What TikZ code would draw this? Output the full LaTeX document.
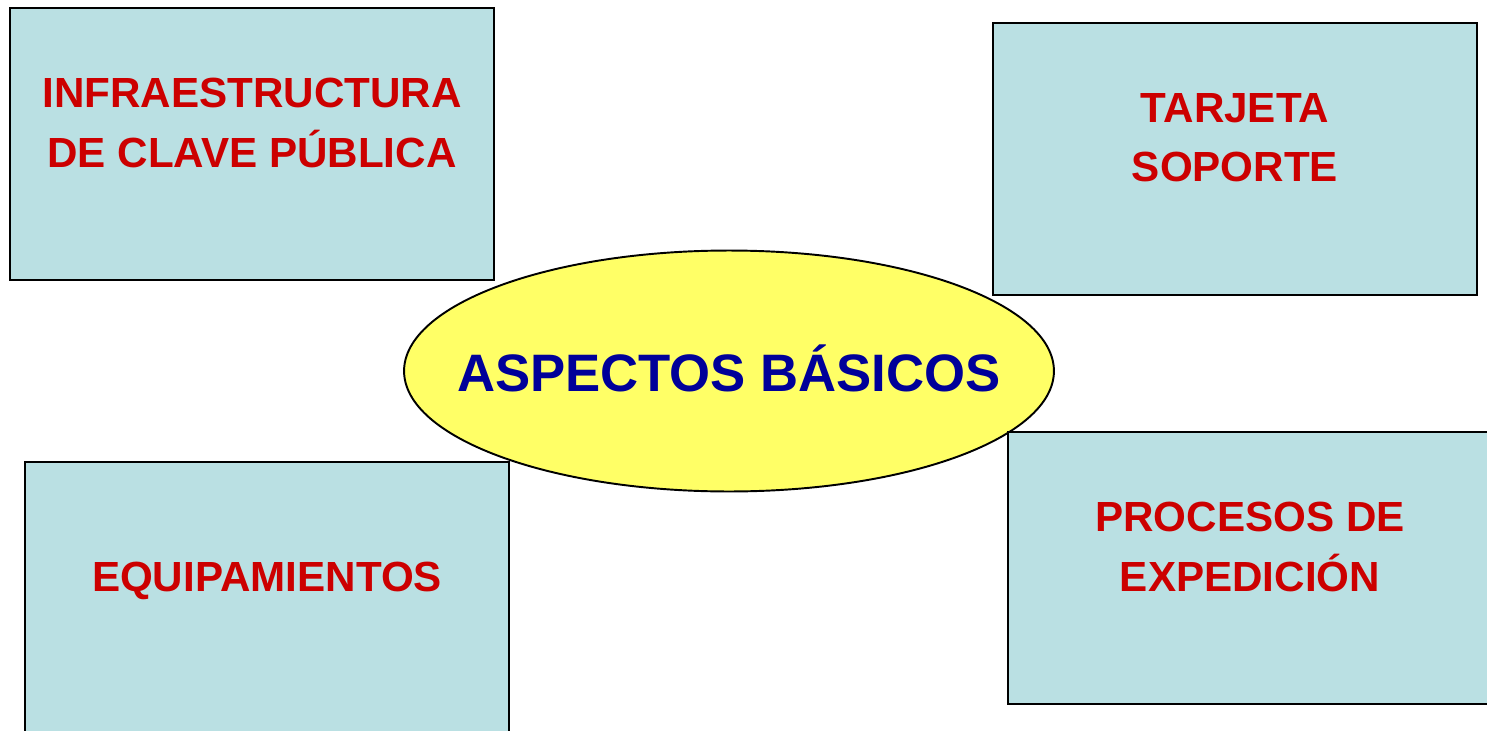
\documentclass[tikz,border=0pt]{standalone}
\usepackage{fontspec}
\setmainfont{Liberation Sans}
\usepackage{tikz}
\usetikzlibrary{positioning,shapes.geometric}
\definecolor{boxblue}{RGB}{186,224,227}
\definecolor{labelred}{RGB}{204,0,0}
\definecolor{hubblue}{RGB}{0,0,153}
\definecolor{hubyellow}{RGB}{255,255,102}
\tikzstyle{box} = [rectangle, draw=black, line width=1.1pt, fill=boxblue, minimum width=9.68cm, minimum height=5.44cm, inner sep=0pt]
\tikzstyle{boxtext} = [align=center, text=labelred, inner sep=0pt, text depth=0pt, font=\bfseries\fontsize{24}{34}\selectfont]

\begin{document}
\begin{tikzpicture}[x=0.02cm, y=-0.02cm]
			\useasboundingbox (0,0) rectangle (1487,730);
			\tikzstyle{hub} = [ellipse, draw=black, line width=1.1pt, fill=hubyellow, minimum width=13cm, minimum height=4.82cm, inner sep=0pt];
			\tikzstyle{hubtext} = [inner sep=0pt, text=hubblue, font=\bfseries\fontsize{30}{36}\selectfont];
			\node (aspects) [hub] at (729,371) {};
			\node (aspectstext) [hubtext, yshift=0.06cm] at (aspects.center) {ASPECTOS BÁSICOS};
			\node (pki) [box] at (252,144) {};
			\node (card) [box] at (1235,159) {};
			\node (equipment) [box] at (267,598) {};
			\node (issuing) [box] at (1250,568) {};
			\node (pkitext) [boxtext, yshift=0.43cm] at (pki.center) {INFRAESTRUCTURA\\DE CLAVE PÚBLICA};
			\node (cardtext) [boxtext, yshift=0.43cm] at (card.center) {TARJETA\\SOPORTE};
			\node (equipmenttext) [boxtext, yshift=0.43cm] at (equipment.center) {EQUIPAMIENTOS};
			\node (issuingtext) [boxtext, yshift=0.43cm] at (issuing.center) {PROCESOS DE\\EXPEDICIÓN};
		\end{tikzpicture}
\end{document}
